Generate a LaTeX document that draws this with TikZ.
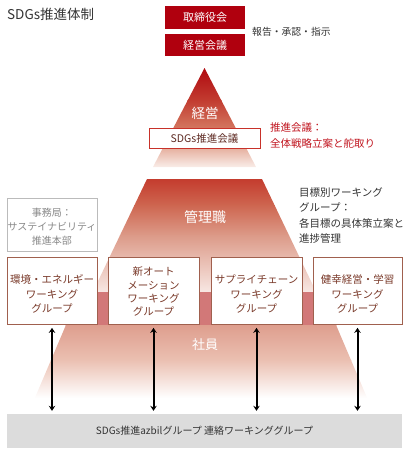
\documentclass[tikz,border=0pt]{standalone}
\usepackage{fontspec}
\setmainfont{Noto Sans CJK JP}
\usetikzlibrary{arrows.meta}
\definecolor{topred}{HTML}{B0000E}
\definecolor{txtdark}{HTML}{333333}
\definecolor{txtred}{HTML}{C0141E}
\definecolor{sdgborder}{HTML}{C8322A}
\definecolor{sdgtext}{HTML}{5E2A22}
\definecolor{wgborder}{HTML}{A0604E}
\definecolor{wgtext}{HTML}{7A3A2A}
\definecolor{secgray}{HTML}{BBBBBB}
\definecolor{sectext}{HTML}{888888}
\definecolor{barfill}{HTML}{DCDCDC}
\definecolor{pa}{HTML}{B00A10}
\definecolor{pb}{HTML}{C23C30}
\definecolor{pc}{HTML}{D8866C}
\definecolor{pd}{HTML}{FAEEEA}
\definecolor{ma}{HTML}{C43C2E}
\definecolor{mb}{HTML}{CE6650}
\definecolor{mc}{HTML}{DC9A88}
\definecolor{md}{HTML}{F8E8E4}
\definecolor{band}{HTML}{D27878}
\definecolor{la}{HTML}{DE9E8E}
\definecolor{lb}{HTML}{EBC0B2}
\begin{document}
\begin{tikzpicture}[x=1pt,y=-1pt,
  topbox/.style={fill=topred, minimum width=80pt, inner sep=0pt, text=white, font=\fontsize{11}{13}\selectfont},
  plain/.style={inner sep=0pt, font=\fontsize{10.5}{15.5}\selectfont},
  bigwhite/.style={inner sep=0pt, text=white, font=\fontsize{13.5}{15}\selectfont},
  wgbox/.style={draw=wgborder, line width=0.7pt, fill=white, minimum width=90pt, minimum height=67pt, inner sep=0pt},
  wgtxt/.style={inner sep=0pt, text=wgtext, align=center, font=\fontsize{10.5}{14.5}\selectfont},
  dblarrow/.style={line width=2pt, {Stealth[length=5pt,width=6.5pt]}-{Stealth[length=5pt,width=6.5pt]}, shorten <=3.5pt, shorten >=3pt}
]
\useasboundingbox (0,0) rectangle (410,455);

% top triangle
\begin{scope}
\clip (204.5,68) -- (256,167) -- (153,167) -- cycle;
\shade[top color=pa, bottom color=pb] (140,68) rectangle (270,100.5);
\shade[top color=pb, bottom color=pc] (140,100) rectangle (270,135.5);
\shade[top color=pc, bottom color=pd] (140,135) rectangle (270,167.5);
\end{scope}

% middle trapezoid
\begin{scope}
\clip (147,179) -- (262,179) -- (316.2,292) -- (92.8,292) -- cycle;
\shade[top color=ma, bottom color=mb] (80,179) rectangle (330,205.5);
\shade[top color=mb, bottom color=mc] (80,205) rectangle (330,235.5);
\shade[top color=mc, bottom color=md] (80,235) rectangle (330,292.5);
\end{scope}

% lower trapezoid
\begin{scope}
\clip (80,292) -- (322,292) -- (368,400) -- (34,400) -- cycle;
\fill[band] (20,292) rectangle (390,325.5);
\shade[top color=la, bottom color=lb] (20,325) rectangle (390,360.5);
\shade[top color=lb, bottom color=white] (20,360) rectangle (390,398);
\end{scope}

% title
\node[anchor=west, inner sep=0pt, text=txtdark, font=\fontsize{13.5}{15}\selectfont] (title) at (7,14) {SDGs推進体制};

% top boxes
\node[topbox, minimum height=23pt] (board) at (205,17.5) {取締役会};
\node[topbox, minimum height=22pt] (mgmt) at (205,45) {経営会議};
\node[plain, anchor=west, text=txtdark, font=\fontsize{9.8}{12}\selectfont] (report) at (252,32) {報告・承認・指示};

% pyramid labels
\node[bigwhite] (keiei) at (205,113) {経営};
\node[draw=sdgborder, line width=0.8pt, fill=white, minimum width=111pt, minimum height=20pt, inner sep=0pt, text=sdgtext, font=\fontsize{10.5}{12}\selectfont] (sdgmeet) at (204.5,138.5) {SDGs推進会議};
\node[plain, anchor=west, align=left, text=txtred, font=\fontsize{10.5}{16}\selectfont] (meetnote) at (270,136) {推進会議：\\全体戦略立案と舵取り};
\node[bigwhite, font=\fontsize{14}{15}\selectfont] (kanri) at (205,217.5) {管理職};
\node[plain, anchor=west, align=left, text=txtdark] (wgnote) at (299,215.5) {目標別ワーキング\\グループ：\\各目標の具体策立案と\\進捗管理};
\node[bigwhite, font=\fontsize{13}{15}\selectfont] (shain) at (205,345) {社員};

% secretariat
\node[draw=secgray, line width=0.7pt, fill=white, minimum width=90pt, minimum height=53pt, inner sep=0pt] (sec) at (52,224.5) {};
\node[inner sep=0pt, text=sectext, align=center, font=\fontsize{10}{14}\selectfont] (sectxt) at (52,227) {事務局：\\サステイナビリティ\\推進本部};

% working group boxes
\node[wgbox] (wg1) at (52,290.5) {};
\node[wgbox, minimum width=91pt] (wg2) at (153.5,290.5) {};
\node[wgbox, minimum width=91pt] (wg3) at (256.5,290.5) {};
\node[wgbox, minimum width=89pt] (wg4) at (357.5,290.5) {};
\node[wgtxt] (wg1t) at (52,294) {環境・エネルギー\\ワーキング\\グループ};
\node[wgtxt, font=\fontsize{10.5}{13.3}\selectfont] (wg2t) at (153.5,291.7) {新オート\\メーション\\ワーキング\\グループ};
\node[wgtxt] (wg3t) at (256.5,294) {サプライチェーン\\ワーキング\\グループ};
\node[wgtxt] (wg4t) at (357.5,294) {健幸経営・学習\\ワーキング\\グループ};

% bottom bar
\node[fill=barfill, minimum width=395pt, minimum height=34pt, inner sep=0pt, text=txtdark, font=\fontsize{10}{12}\selectfont] (bar) at (204.5,431) {SDGs推進azbilグループ 連絡ワーキンググループ};

% arrows
\foreach \w in {wg1,wg2,wg3,wg4}
  \draw[dblarrow] (\w.south) -- (\w.south |- bar.north);
\end{tikzpicture}
\end{document}
